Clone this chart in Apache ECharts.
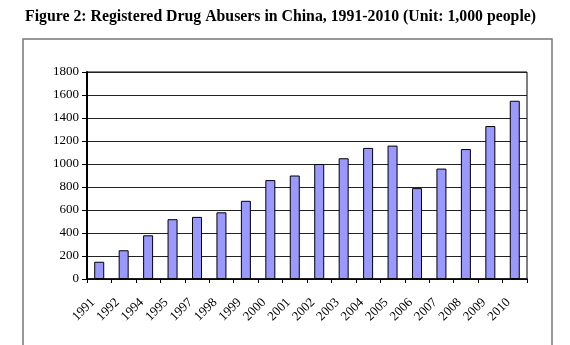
<!DOCTYPE html>
<html>
<head>
<meta charset="utf-8">
<script src="https://cdn.jsdelivr.net/npm/echarts@6/dist/echarts.min.js"></script>
<style>
  html, body { margin: 0; padding: 0; background: #fff; }
  #chart { width: 570px; height: 345px; }
</style>
</head>
<body>
<div id="chart"></div>
<script>
// Registered drug abusers in China (thousands of people)
const years = ['1991', '1992', '1994', '1995', '1997', '1998', '1999', '2000', '2001',
  '2002', '2003', '2004', '2005', '2006', '2007', '2008', '2009', '2010'];
const abusers = [150, 250, 380, 520, 540, 580, 680, 860, 900,
  1000, 1050, 1140, 1160, 790, 960, 1130, 1330, 1550];
const yTicks = { min: 0, max: 1800, step: 200 };

const serif = '"Liberation Serif", "Times New Roman", serif';

const chart = echarts.init(document.getElementById('chart'), null, { renderer: 'canvas' });
chart.setOption({
  animation: false,
  backgroundColor: '#fff',
  title: {
    text: 'Figure 2: Registered Drug Abusers in China, 1991-2010 (Unit: 1,000 people)',
    left: 20,
    top: 4,
    textStyle: { fontFamily: serif, fontWeight: 'bold', fontSize: 15.8, color: '#000' }
  },
  graphic: [
    {
      type: 'polyline',
      shape: { points: [[23, 345], [23, 39], [552, 39], [552, 345]] },
      style: { stroke: '#777', lineWidth: 1.5, fill: null }
    }
  ],
  grid: {
    left: 87, right: 43, top: 72, bottom: 66,
    show: true, borderColor: '#000', borderWidth: 1, backgroundColor: 'transparent'
  },
  xAxis: {
    type: 'category',
    data: years,
    axisLine: { lineStyle: { color: '#000', width: 1.5 } },
    axisTick: { show: true, length: 4, lineStyle: { color: '#000' } },
    axisLabel: {
      rotate: 45, margin: 15, interval: 0, padding: [0, 9, 0, 0],
      fontFamily: serif, fontSize: 13, color: '#000'
    }
  },
  yAxis: {
    type: 'value',
    min: yTicks.min, max: yTicks.max, interval: yTicks.step,
    axisLine: { show: true, lineStyle: { color: '#000', width: 2 } },
    axisTick: { show: true, length: 5, lineStyle: { color: '#000' } },
    splitLine: { lineStyle: { color: '#222', width: 1 } },
    axisLabel: {
      margin: 8, fontFamily: serif, fontSize: 13, color: '#000',
      formatter: (v) => String(v)
    }
  },
  series: [{
    type: 'bar',
    data: abusers,
    barWidth: 10,
    itemStyle: { color: '#9999ff', borderColor: '#000', borderWidth: 1 }
  }]
});
</script>
</body>
</html>
